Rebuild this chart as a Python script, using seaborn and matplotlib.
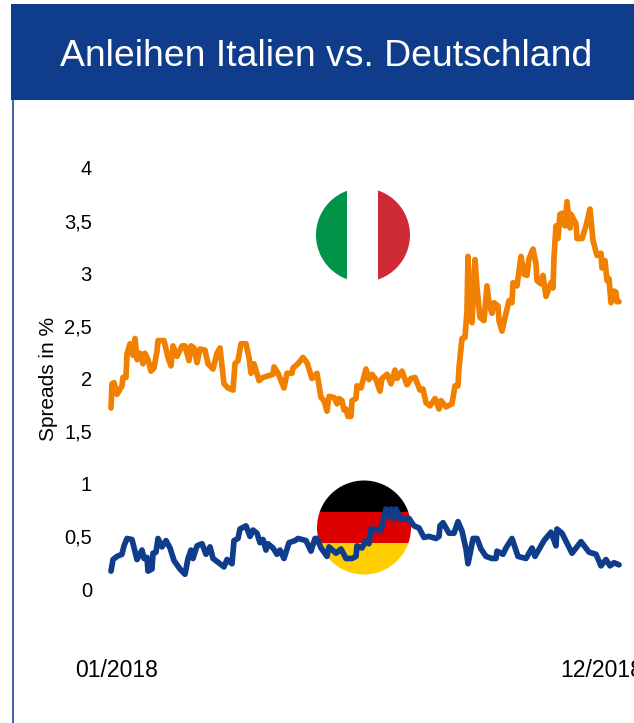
import matplotlib
matplotlib.use("Agg")
import matplotlib.pyplot as plt
from matplotlib.patches import Circle, Rectangle
import pandas as pd
import seaborn as sns

# observation index along the year, and spreads in %
italy_obs = [
    0, 1, 3, 6, 11, 12, 15, 16, 19, 22,
    24, 26, 29, 32, 34, 37, 40, 43, 46, 47,
    53, 57, 60, 62, 66, 71, 74, 78, 80, 83,
    86, 89, 94, 97, 102, 106, 109, 113, 117, 122,
    124, 127, 130, 135, 138, 140, 143, 148, 152, 162,
    163, 167, 173, 176, 181, 182, 187, 192, 196, 201,
    206, 210, 213, 216, 218, 223, 226, 228, 231, 233,
    235, 237, 240, 241, 245, 246, 250, 255, 258, 261,
    265, 269, 271, 276, 280, 284, 286, 291, 296, 300,
    304, 309, 312, 315, 319, 324, 328, 330, 335, 341,
    344, 347, 348, 351, 354, 356, 357, 359, 361, 364,
    366, 369, 373, 376, 378, 381, 383, 387, 388, 391,
    394, 398, 401, 402, 406, 410, 413, 416, 418, 422,
    425, 426, 430, 432, 435, 440, 442, 443, 445, 447,
    449, 451, 454, 456, 459, 460, 465, 466, 471, 475,
    479, 482, 486, 490, 491, 492, 494, 496, 498, 500,
    503, 505, 506, 508,
]
italy_val = [
    1.72, 1.95, 1.96, 1.85, 1.93, 2.01, 2.01, 2.23, 2.33, 2.22,
    2.38, 2.18, 2.24, 2.14, 2.24, 2.18, 2.07, 2.10, 2.26, 2.36,
    2.36, 2.20, 2.12, 2.31, 2.21, 2.31, 2.31, 2.17, 2.31, 2.29,
    2.15, 2.28, 2.27, 2.14, 2.09, 2.24, 2.29, 1.95, 1.91, 1.89,
    2.14, 2.17, 2.33, 2.33, 2.20, 2.05, 2.14, 1.98, 2.01, 2.04,
    2.11, 2.05, 1.91, 2.05, 2.05, 2.10, 2.14, 2.20, 2.15, 2.00,
    2.05, 1.82, 1.79, 1.69, 1.83, 1.82, 1.76, 1.81, 1.79, 1.70,
    1.71, 1.64, 1.64, 1.79, 1.81, 1.93, 1.91, 2.09, 1.99, 2.04,
    1.99, 1.88, 2.00, 2.04, 1.95, 2.08, 2.00, 2.07, 1.94, 2.00,
    2.01, 1.89, 1.90, 1.77, 1.74, 1.81, 1.71, 1.79, 1.73, 1.76,
    1.93, 1.93, 2.10, 2.38, 2.39, 2.64, 3.16, 2.58, 2.53, 3.13,
    2.86, 2.58, 2.55, 2.88, 2.71, 2.62, 2.72, 2.69, 2.55, 2.45,
    2.58, 2.74, 2.72, 2.91, 2.88, 3.16, 2.99, 2.98, 3.14, 3.23,
    3.09, 2.93, 2.90, 2.98, 2.78, 2.91, 2.86, 3.15, 3.45, 3.33,
    3.56, 3.57, 3.45, 3.68, 3.43, 3.56, 3.47, 3.33, 3.33, 3.45,
    3.61, 3.31, 3.17, 3.19, 3.05, 3.12, 3.12, 2.93, 2.95, 2.72,
    2.83, 2.82, 2.73, 2.73,
]
germany_obs = [
    0, 2, 6, 11, 13, 16, 21, 26, 31, 33,
    36, 37, 41, 42, 45, 47, 51, 55, 59, 63,
    69, 74, 77, 80, 82, 86, 91, 95, 99, 102,
    109, 113, 116, 121, 123, 127, 129, 135, 139, 142,
    146, 149, 152, 155, 157, 162, 166, 169, 173, 178,
    184, 187, 195, 200, 204, 206, 210, 216, 218, 225,
    230, 235, 241, 245, 246, 251, 255, 258, 260, 270,
    275, 278, 280, 283, 285, 290, 298, 303, 308, 313,
    318, 325, 328, 329, 332, 338, 343, 347, 351, 355,
    357, 360, 362, 366, 370, 375, 381, 385, 386, 392,
    395, 401, 407, 415, 421, 424, 433, 440, 445, 446,
    451, 461, 470, 478, 485, 490, 495, 499, 503, 508,
]
germany_val = [
    0.17, 0.28, 0.31, 0.33, 0.41, 0.48, 0.47, 0.28, 0.37, 0.29,
    0.30, 0.17, 0.19, 0.34, 0.35, 0.48, 0.40, 0.46, 0.39, 0.27,
    0.19, 0.14, 0.29, 0.37, 0.29, 0.41, 0.43, 0.33, 0.40, 0.29,
    0.24, 0.21, 0.28, 0.24, 0.46, 0.48, 0.57, 0.60, 0.50, 0.56,
    0.53, 0.44, 0.47, 0.37, 0.43, 0.39, 0.33, 0.37, 0.29, 0.44,
    0.46, 0.48, 0.46, 0.36, 0.48, 0.48, 0.39, 0.31, 0.40, 0.34,
    0.38, 0.29, 0.29, 0.31, 0.41, 0.39, 0.46, 0.43, 0.57, 0.56,
    0.76, 0.69, 0.76, 0.67, 0.76, 0.66, 0.67, 0.60, 0.58, 0.49,
    0.50, 0.48, 0.50, 0.60, 0.63, 0.53, 0.53, 0.64, 0.55, 0.38,
    0.24, 0.38, 0.48, 0.48, 0.38, 0.31, 0.29, 0.29, 0.36, 0.33,
    0.39, 0.48, 0.31, 0.29, 0.39, 0.31, 0.46, 0.54, 0.41, 0.57,
    0.53, 0.34, 0.45, 0.35, 0.33, 0.22, 0.28, 0.22, 0.25, 0.23,
]
assert len(italy_obs) == len(italy_val) and len(germany_obs) == len(germany_val)

y_ticks = [0, 0.5, 1, 1.5, 2, 2.5, 3, 3.5, 4]
y_labels = ["0", "0,5", "1", "1,5", "2", "2,5", "3", "3,5", "4"]
x_ticks = [6, 491]
x_labels = ["01/2018", "12/2018"]
title = "Anleihen Italien vs. Deutschland"
y_title = "Spreads in %"

ORANGE = "#F28000"
BLUE = "#0F3D8C"
W, H = 634, 723

sns.set_theme(style="white")
plt.rcParams["font.family"] = ["Liberation Sans", "DejaVu Sans"]

fig = plt.figure(figsize=(W / 100, H / 100), dpi=100, facecolor="white")

# page furniture and flags, in pixel coordinates
bg = fig.add_axes([0, 0, 1, 1], zorder=0)
bg.set_xlim(0, W)
bg.set_ylim(H, 0)
bg.axis("off")
bg.add_patch(Rectangle((11, 4), W - 11, 96, color=BLUE, lw=0))
bg.plot([12.5, 12.5], [100, H], color="#2F56A6", lw=1.3)
bg.text(326, 56, title, color="white", fontsize=26.9, ha="center", va="center")


def flag(cy, cx, r, stripes):
    clip = Circle((cx, cy), r, transform=bg.transData)
    for x0, y0, w, h, c in stripes:
        p = Rectangle((x0, y0), w, h, color=c, lw=0)
        bg.add_patch(p)
        p.set_clip_path(clip)


flag(235, 363, 47, [(316, 188, 31, 94, "#009246"), (378, 188, 32, 94, "#CE2B37")])
flag(527.5, 364, 47, [(317, 480, 94, 32, "#000000"), (317, 511.5, 94, 31.5, "#DD0000"),
                      (317, 543, 94, 32, "#FFCE00")])

ax = fig.add_axes([110 / W, 1 - 655 / H, 510 / W, 505 / H], zorder=1)
ax.patch.set_alpha(0)
df = pd.concat([
    pd.DataFrame({"obs": italy_obs, "spread": italy_val, "land": "Italien"}),
    pd.DataFrame({"obs": germany_obs, "spread": germany_val, "land": "Deutschland"}),
])
sns.lineplot(data=df, x="obs", y="spread", hue="land", palette={"Italien": ORANGE, "Deutschland": BLUE},
             estimator=None, sort=False, lw=4.1, legend=False, ax=ax,
             solid_joinstyle="round", solid_capstyle="round", clip_on=False)
ax.set_xlim(-1, 509)
ax.set_ylim(-0.627, 4.171)
sns.despine(ax=ax, left=True, bottom=True)
ax.set_yticks(y_ticks, y_labels, fontsize=14.5, color="black")
ax.set_xticks(x_ticks, x_labels, fontsize=16.6, color="black")
ax.tick_params(axis="both", length=0)
ax.tick_params(axis="y", pad=13)
ax.tick_params(axis="x", pad=3)
ax.set_xlabel("")
ax.set_ylabel("")
bg.text(48, 379, y_title, rotation=90, fontsize=15, ha="center", va="center", color="black")

fig.savefig("out.png", dpi=100)
